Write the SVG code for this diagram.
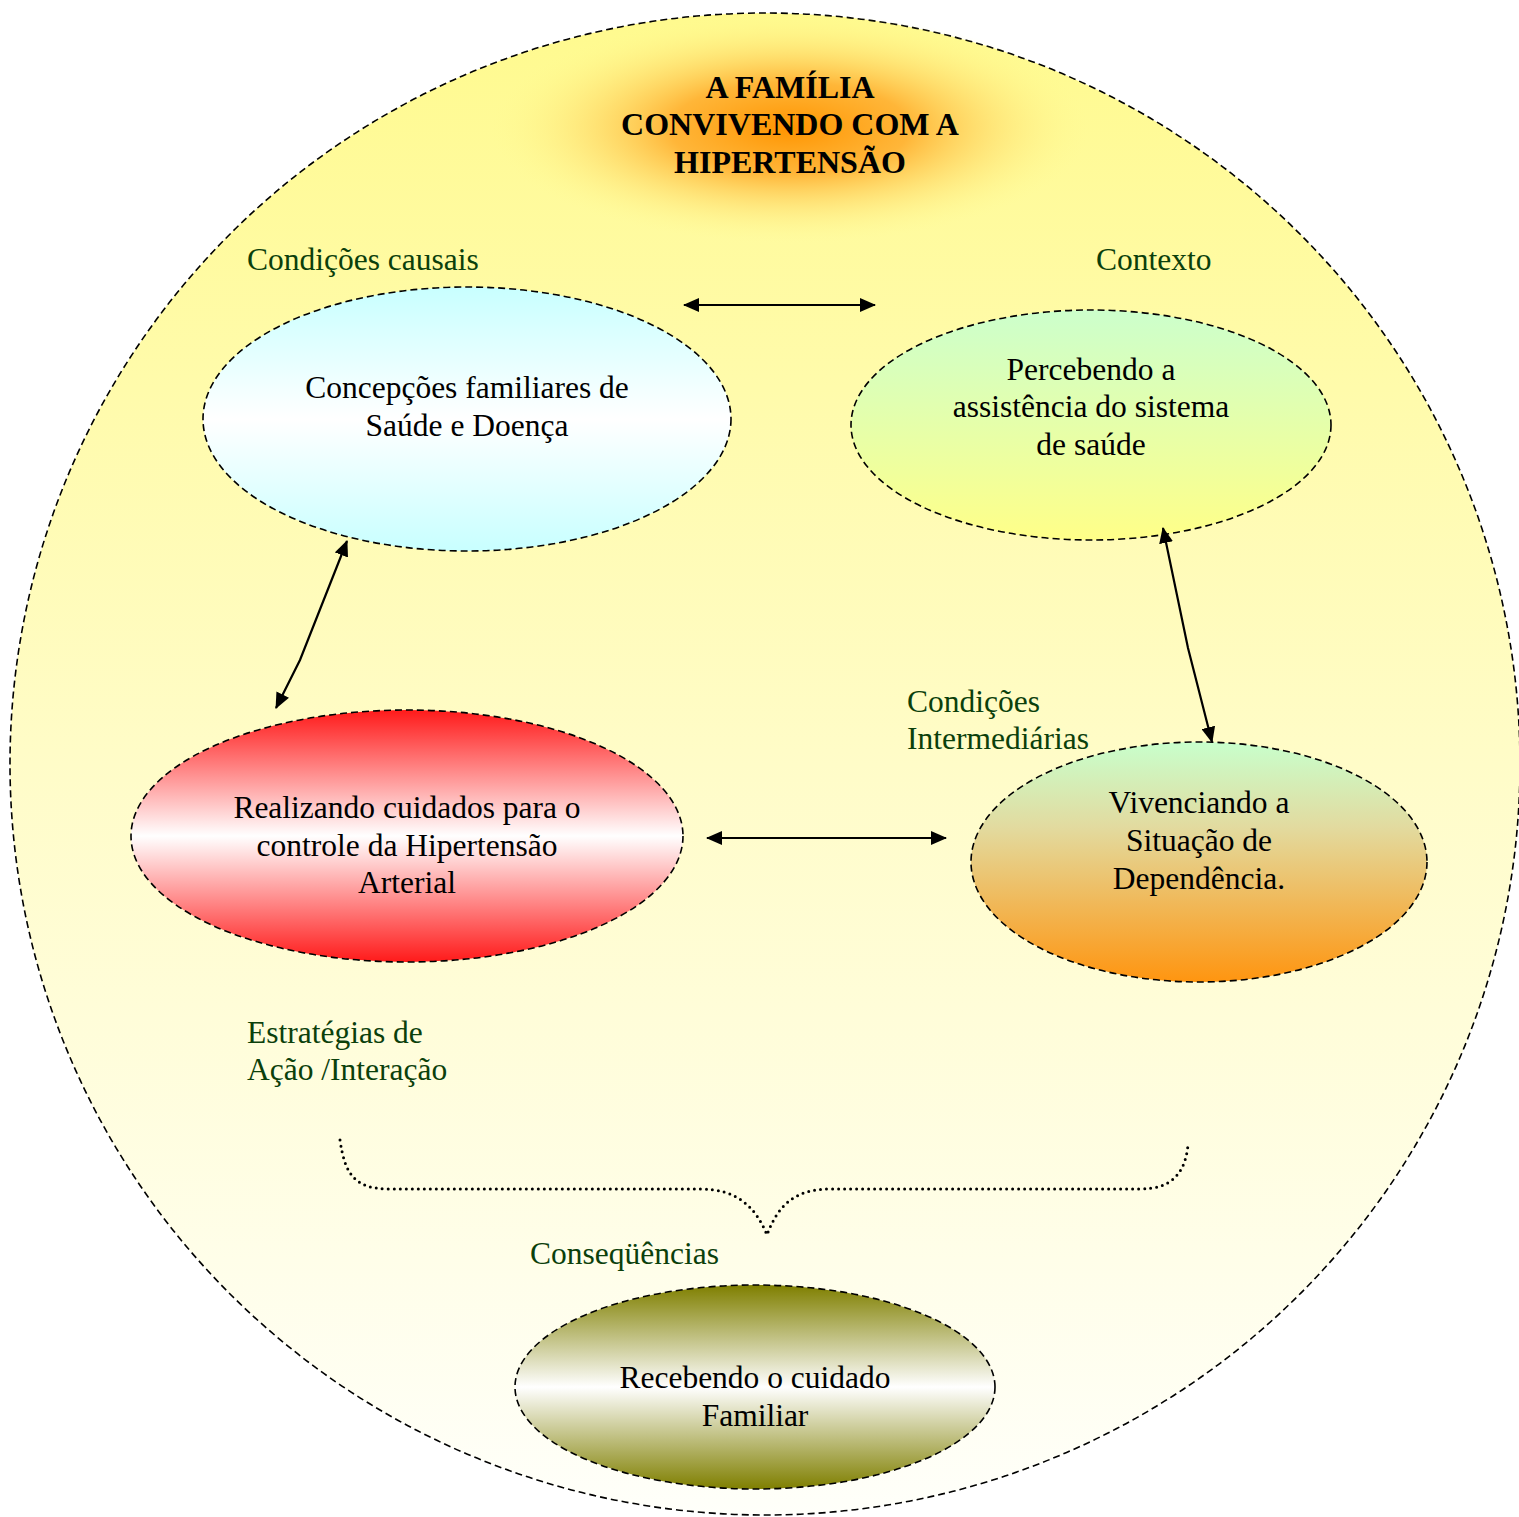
<svg xmlns="http://www.w3.org/2000/svg" width="1519" height="1517" viewBox="0 0 1519 1517">
<defs>
<style>
.dash{stroke:#000;stroke-width:1.6;stroke-dasharray:7 4;}
.t{font-family:"Liberation Serif","Times New Roman",serif;font-size:31.5px;fill:#000;text-anchor:middle;}
.lab{font-family:"Liberation Serif","Times New Roman",serif;font-size:31.5px;fill:#0b400b;}
.title{font-family:"Liberation Serif","Times New Roman",serif;font-size:32px;font-weight:bold;fill:#000;text-anchor:middle;}
.conn{stroke:#000;stroke-width:2.2;fill:none;marker-start:url(#ah);marker-end:url(#ah);}
</style>
<linearGradient id="bg" x1="0" y1="0" x2="0" y2="1">
<stop offset="0" stop-color="#fffa8e"/>
<stop offset="0.5" stop-color="#fffcc8"/>
<stop offset="1" stop-color="#fffffa"/>
</linearGradient>
<radialGradient id="glow" cx="0.5" cy="0.5" r="0.5">
<stop offset="0" stop-color="#ff9400" stop-opacity="1"/>
<stop offset="0.4" stop-color="#ffaa28" stop-opacity="0.85"/>
<stop offset="1" stop-color="#fffa8e" stop-opacity="0"/>
</radialGradient>
<linearGradient id="gCyan" x1="0" y1="0" x2="0" y2="1">
<stop offset="0" stop-color="#c8ffff"/>
<stop offset="0.5" stop-color="#ffffff"/>
<stop offset="1" stop-color="#c8ffff"/>
</linearGradient>
<linearGradient id="gGreenYel" x1="0" y1="0" x2="0" y2="1">
<stop offset="0" stop-color="#ccffcc"/>
<stop offset="1" stop-color="#ffff88"/>
</linearGradient>
<linearGradient id="gRed" x1="0" y1="0" x2="0" y2="1">
<stop offset="0" stop-color="#ff1a1a"/>
<stop offset="0.5" stop-color="#ffffff"/>
<stop offset="1" stop-color="#ff1a1a"/>
</linearGradient>
<linearGradient id="gOrange" x1="0" y1="0" x2="0" y2="1">
<stop offset="0" stop-color="#c8ffcc"/>
<stop offset="0.35" stop-color="#e2dba0"/>
<stop offset="1" stop-color="#ff9510"/>
</linearGradient>
<linearGradient id="gOlive" x1="0" y1="0" x2="0" y2="1">
<stop offset="0" stop-color="#7f7f00"/>
<stop offset="0.5" stop-color="#ffffff"/>
<stop offset="1" stop-color="#7f7f00"/>
</linearGradient>
<marker id="ah" viewBox="0 0 16 14" refX="15" refY="7" markerWidth="16" markerHeight="14" markerUnits="userSpaceOnUse" orient="auto-start-reverse">
<path d="M0,0 L16,7 L0,14 Z" fill="#000"/>
</marker>
</defs>

<g id="background">
<ellipse cx="765" cy="764" rx="755" ry="751" fill="url(#bg)" class="dash"/>
<ellipse cx="790" cy="128" rx="300" ry="115" fill="url(#glow)"/>
</g>

<g id="title">
<text class="title" x="790" y="98">A FAMÍLIA</text>
<text class="title" x="790" y="135">CONVIVENDO COM A</text>
<text class="title" x="790" y="173">HIPERTENSÃO</text>
</g>

<g id="labels">
<text class="lab" x="247" y="270">Condições causais</text>
<text class="lab" x="1096" y="270">Contexto</text>
<text class="lab" x="907" y="712">Condições</text>
<text class="lab" x="907" y="749">Intermediárias</text>
<text class="lab" x="247" y="1043">Estratégias de</text>
<text class="lab" x="247" y="1080">Ação /Interação</text>
<text class="lab" x="530" y="1264">Conseqüências</text>
</g>

<g id="node-concepcoes">
<ellipse cx="467" cy="419" rx="264" ry="132" fill="url(#gCyan)" class="dash"/>
<text class="t" x="467" y="398">Concepções familiares de</text>
<text class="t" x="467" y="436">Saúde e Doença</text>
</g>

<g id="node-percebendo">
<ellipse cx="1091" cy="425" rx="240" ry="115" fill="url(#gGreenYel)" class="dash"/>
<text class="t" x="1091" y="380">Percebendo a</text>
<text class="t" x="1091" y="417">assistência do sistema</text>
<text class="t" x="1091" y="455">de saúde</text>
</g>

<g id="node-realizando">
<ellipse cx="407" cy="836" rx="276" ry="126" fill="url(#gRed)" class="dash"/>
<text class="t" x="407" y="818">Realizando cuidados para o</text>
<text class="t" x="407" y="856">controle da Hipertensão</text>
<text class="t" x="407" y="893">Arterial</text>
</g>

<g id="node-vivenciando">
<ellipse cx="1199" cy="862" rx="228" ry="120" fill="url(#gOrange)" class="dash"/>
<text class="t" x="1199" y="813">Vivenciando a</text>
<text class="t" x="1199" y="851">Situação de</text>
<text class="t" x="1199" y="889">Dependência.</text>
</g>

<g id="node-recebendo">
<ellipse cx="755" cy="1387" rx="240" ry="102" fill="url(#gOlive)" class="dash"/>
<text class="t" x="755" y="1388">Recebendo o cuidado</text>
<text class="t" x="755" y="1426">Familiar</text>
</g>

<g id="connectors">
<path class="conn" d="M684,305 L875,305"/>
<path class="conn" d="M347,541 L300,660 L276,708"/>
<path class="conn" d="M1163,528 L1188,648 L1212,742"/>
<path class="conn" d="M707,838 L946,838"/>
<path d="M340,1140 C345,1175 355,1189 390,1189 L700,1189 C735,1189 755,1205 767,1235 C778,1205 795,1189 830,1189 L1140,1189 C1170,1189 1185,1175 1188,1145" fill="none" stroke="#000" stroke-width="3" stroke-linecap="round" stroke-dasharray="0 6"/>
</g>
</svg>
